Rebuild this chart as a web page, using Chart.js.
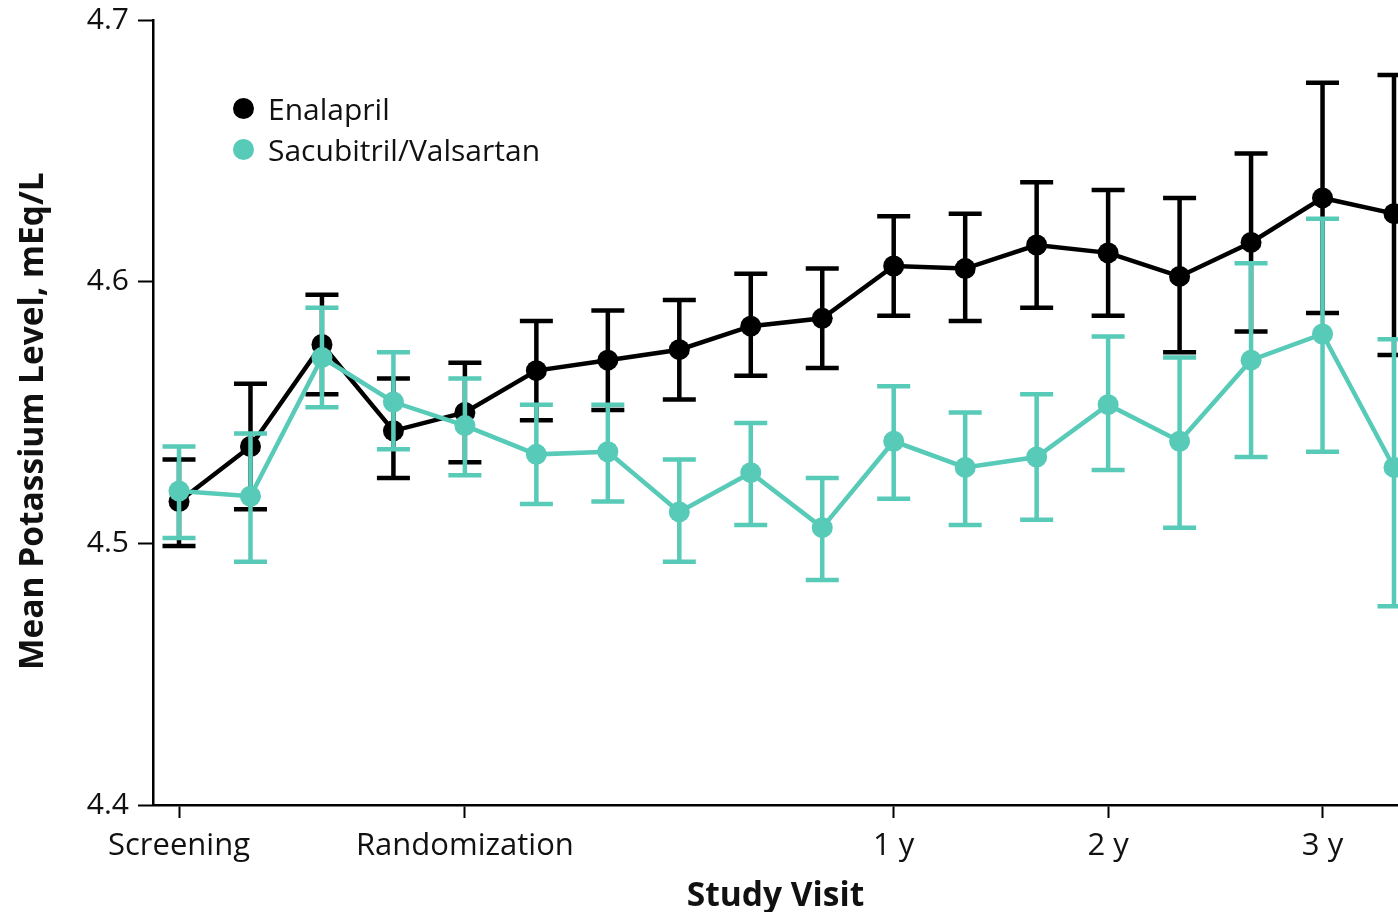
<!DOCTYPE html>
<html>
<head>
<meta charset="utf-8">
<script src="https://cdn.jsdelivr.net/npm/chart.js@4/dist/chart.umd.min.js"></script>
<style>
  html, body { margin: 0; padding: 0; background: #fff; }
  #wrap { position: relative; width: 1398px; height: 912px; }
  #legend { position: absolute; left: 233px; top: 88px; font-family: "Open Sans", sans-serif; font-size: 30px; color: #111; }
  #legend div { display: flex; align-items: center; height: 41px; }
  #legend span.dot { width: 21px; height: 21px; border-radius: 50%; margin-right: 14px; display: inline-block; }
</style>
</head>
<body>
<div id="wrap">
  <canvas id="chart" width="1398" height="912"></canvas>
  <div id="legend"></div>
</div>
<script>
const visits = [0, 1, 2, 3, 4, 5, 6, 7, 8, 9, 10, 11, 12, 13, 14, 15, 16, 17];
const tickPositions = [0, 4, 10, 13, 16];
const tickLabels = ['Screening', 'Randomization', '1 y', '2 y', '3 y'];

const enalaprilMean  = [4.516, 4.537, 4.576, 4.543, 4.550, 4.566, 4.570, 4.574, 4.583, 4.586, 4.606, 4.605, 4.614, 4.611, 4.602, 4.615, 4.632, 4.626];
const enalaprilUpper = [4.532, 4.561, 4.595, 4.563, 4.569, 4.585, 4.589, 4.593, 4.603, 4.605, 4.625, 4.626, 4.638, 4.635, 4.632, 4.649, 4.676, 4.679];
const enalaprilLower = [4.499, 4.513, 4.557, 4.525, 4.531, 4.547, 4.551, 4.555, 4.564, 4.567, 4.587, 4.585, 4.590, 4.587, 4.573, 4.581, 4.588, 4.572];

const sacValMean  = [4.520, 4.518, 4.571, 4.554, 4.545, 4.534, 4.535, 4.512, 4.527, 4.506, 4.539, 4.529, 4.533, 4.553, 4.539, 4.570, 4.580, 4.529];
const sacValUpper = [4.537, 4.542, 4.590, 4.573, 4.563, 4.553, 4.553, 4.532, 4.546, 4.525, 4.560, 4.550, 4.557, 4.579, 4.571, 4.607, 4.624, 4.578];
const sacValLower = [4.502, 4.493, 4.552, 4.536, 4.526, 4.515, 4.516, 4.493, 4.507, 4.486, 4.517, 4.507, 4.509, 4.528, 4.506, 4.533, 4.535, 4.476];

const black = '#000000';
const teal = '#57cab8';

function points(values) {
    return visits.map((v, i) => ({ x: v, y: values[i] }));
}

// error bars drawn right after each dataset
const errorBars = {
    id: 'errorBars',
    afterDatasetDraw(chart, args) {
        const ds = chart.data.datasets[args.index];
        if (!ds.upper) return;
        const ctx = chart.ctx;
        const y = chart.scales.y;
        const cap = 16.5;
        ctx.save();
        ctx.strokeStyle = ds.borderColor;
        ctx.lineWidth = 4.5;
        args.meta.data.forEach((pt, i) => {
            const top = y.getPixelForValue(ds.upper[i]);
            const bot = y.getPixelForValue(ds.lower[i]);
            ctx.beginPath();
            ctx.moveTo(pt.x, top);
            ctx.lineTo(pt.x, bot);
            ctx.moveTo(pt.x - cap, top);
            ctx.lineTo(pt.x + cap, top);
            ctx.moveTo(pt.x - cap, bot);
            ctx.lineTo(pt.x + cap, bot);
            ctx.stroke();
        });
        ctx.restore();
    }
};

const datasets = [
    {
        label: 'Enalapril',
        data: points(enalaprilMean),
        upper: enalaprilUpper,
        lower: enalaprilLower,
        borderColor: black,
        backgroundColor: black,
        order: 1
    },
    {
        label: 'Sacubitril/Valsartan',
        data: points(sacValMean),
        upper: sacValUpper,
        lower: sacValLower,
        borderColor: teal,
        backgroundColor: teal,
        order: 0
    }
];

const fontFamily = '"Open Sans", sans-serif';

function noPad(s) {
    s.paddingTop = 0;
    s.paddingBottom = 0;
    s.paddingLeft = 0;
    s.paddingRight = 0;
}

new Chart(document.getElementById('chart').getContext('2d'), {
    type: 'line',
    data: { datasets: datasets },
    options: {
        responsive: false,
        animation: false,
        layout: { autoPadding: false, padding: { top: 20, right: 0, left: 0, bottom: 0 } },
        elements: {
            line: { borderWidth: 4.5, tension: 0 },
            point: { radius: 10.5, borderWidth: 0, hoverRadius: 10.5 }
        },
        plugins: {
            legend: { display: false },
            tooltip: { enabled: false }
        },
        scales: {
            x: {
                type: 'linear',
                min: -0.364,
                max: 17.056,
                afterFit: s => { s.height = 107; noPad(s); },
                afterBuildTicks: s => { s.ticks = tickPositions.map(v => ({ value: v })); },
                grid: { drawOnChartArea: false, tickLength: 13, tickColor: black, tickWidth: 2 },
                border: { color: black, width: 2.5 },
                ticks: {
                    color: '#111',
                    font: { family: fontFamily, size: 31 },
                    padding: 10,
                    maxRotation: 0,
                    autoSkip: false,
                    callback: v => tickLabels[tickPositions.indexOf(v)]
                },
                title: {
                    display: true,
                    text: 'Study Visit',
                    color: '#111',
                    font: { family: fontFamily, size: 33.5, weight: 'bold' },
                    padding: { top: 0, bottom: -5 }
                }
            },
            y: {
                min: 4.4,
                max: 4.7,
                afterFit: s => { s.width = 153; noPad(s); },
                grid: { drawOnChartArea: false, tickLength: 15, tickColor: black, tickWidth: 2 },
                border: { color: black, width: 2.5 },
                ticks: {
                    stepSize: 0.1,
                    color: '#111',
                    font: { family: fontFamily, size: 30 },
                    padding: 9,
                    callback: v => v.toFixed(1)
                },
                title: {
                    display: true,
                    text: 'Mean Potassium Level, mEq/L\u00a0\u00a0',
                    color: '#111',
                    font: { family: fontFamily, size: 33.5, weight: 'bold' },
                    padding: { top: 13, bottom: 0 }
                }
            }
        }
    },
    plugins: [errorBars]
});

const legend = document.getElementById('legend');
datasets.forEach(ds => {
    const row = document.createElement('div');
    row.innerHTML = '<span class="dot" style="background:' + ds.backgroundColor + '"></span>' + ds.label;
    legend.appendChild(row);
});
</script>
</body>
</html>
